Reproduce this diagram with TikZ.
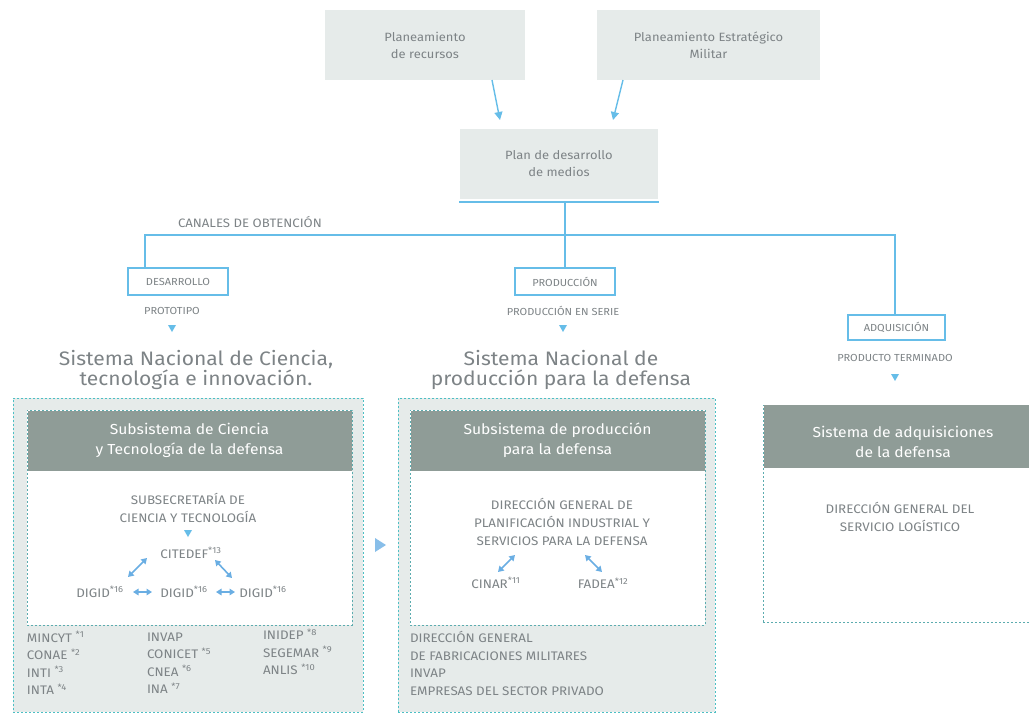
\documentclass[tikz,border=0pt]{standalone}
\usepackage{fontspec}
\setmainfont{Fira Sans}[FakeStretch=1.08]
\usetikzlibrary{arrows.meta,calc}
\definecolor{boxg}{HTML}{E6EBEA}
\definecolor{hdr}{HTML}{8F9C97}
\definecolor{txtg}{HTML}{7D8386}
\definecolor{lblue}{HTML}{66BDE8}
\definecolor{dteal}{HTML}{4DBFC4}
\definecolor{abl}{HTML}{6AAEE3}
\begin{document}
\begin{tikzpicture}[x=1pt,y=-1pt,
  every node/.style={inner sep=0pt,outer sep=0pt,text=txtg,align=center},
  topbox/.style={fill=boxg,minimum width=200pt,minimum height=70pt,font=\fontsize{12}{17}\selectfont},
  chan/.style={draw=lblue,line width=1.3pt,fill=white,minimum width=100pt,minimum height=27pt,font=\fontsize{10.2}{10}\selectfont},
  lab/.style={font=\fontsize{10.2}{10}\selectfont},
  big/.style={font=\fontsize{19.5}{20.5}\selectfont},
  outerbox/.style={fill=boxg,draw=dteal,line width=1pt,dash pattern=on 2pt off 2pt},
  innerbox/.style={fill=white,draw=dteal!70!gray,line width=0.9pt,dash pattern=on 2pt off 2pt},
  hdrbox/.style={fill=hdr,text=white,font=\fontsize{14.5}{20}\selectfont},
  inner/.style={font=\fontsize{12.4}{18}\selectfont},
  lst/.style={font=\fontsize{12.4}{17.5}\selectfont,anchor=west,align=left},
  tree/.style={draw=lblue,line width=1.4pt},
  arr/.style={draw=lblue,line width=1.4pt,-{Triangle[width=8pt,length=8pt]}},
  dbl/.style={draw=abl,line width=1.6pt,{Triangle[width=6.5pt,length=5.5pt]}-{Triangle[width=6.5pt,length=5.5pt]}},
  downtri/.pic={\fill[lblue] (-4,-3) -- (4,-3) -- (0,4) -- cycle;}
]
\useasboundingbox (0,0) rectangle (1029,713);

% top boxes
\node[topbox] (pr) at (425,45) {Planeamiento\\de recursos};
\node[topbox,minimum width=223pt] (pem) at (708.5,45) {Planeamiento Estratégico\\Militar};
\node[topbox,minimum width=198pt] (pd) at (559,164) {Plan de desarrollo\\de medios};
\coordinate (a1s) at (492,80); \coordinate (a1e) at (500,120);
\coordinate (a2s) at (623,80); \coordinate (a2e) at (613,120);
\draw[arr] (a1s) -- (a1e);
\draw[arr] (a2s) -- (a2e);

% channel tree
\coordinate (pdbl) at (459,202); \coordinate (pdbr) at (659,202);
\draw[tree] (pdbl) -- (pdbr);
\coordinate (hl) at (145,235); \coordinate (hr) at (895,235);
\node[anchor=west,font=\fontsize{12.2}{12}\selectfont] (canal) at (178,222) {CANALES DE OBTENCIÓN};
\node[chan] (des) at (178,281.5) {DESARROLLO};
\node[chan] (prod) at (565,281.5) {PRODUCCIÓN};
\node[chan,minimum width=97pt,minimum height=25pt] (adq) at (896.5,327.5) {ADQUISICIÓN};
\coordinate (pdv) at (565,202);
\draw[tree] (pdv) -- (prod.north);
\draw[tree] (des.north -| hl) -- (hl) -- (hr) -- (adq.north -| hr);

\node[lab] (proto) at (172,311) {PROTOTIPO};
\node[lab] (serie) at (563,311) {PRODUCCIÓN EN SERIE};
\node[lab] (term) at (895,358) {PRODUCTO TERMINADO};
\pic (t1) at (172,328) {downtri};
\pic (t2) at (563,328) {downtri};
\pic (t3) at (895,377) {downtri};

\node[big] (sncti) at (196,370) {Sistema Nacional de Ciencia,\\tecnología e innovación.};
\node[big] (snpd) at (561,370) {Sistema Nacional de\\producción para la defensa};

% left system
\node[outerbox,minimum width=350pt,minimum height=314pt] (lo) at (188,555) {};
\node[innerbox,minimum width=325pt,minimum height=215pt] (li) at (189.5,517.5) {};
\node[hdrbox,minimum width=324pt,minimum height=60pt] (lh) at (189.5,440.5) {Subsistema de Ciencia\\y Tecnología de la defensa};
\node[inner] (subs) at (188,508) {SUBSECRETARÍA DE\\CIENCIA Y TECNOLOGÍA};
\pic (t4) at (188,533) {downtri};
\node[inner] (cit) at (191,553) {CITEDEF\textsuperscript{*13}};
\node[inner] (dg1) at (100,592) {DIGID\textsuperscript{*16}};
\node[inner] (dg2) at (184,592) {DIGID\textsuperscript{*16}};
\node[inner] (dg3) at (263,592) {DIGID\textsuperscript{*16}};
\coordinate (c1a) at (128,577); \coordinate (c1b) at (147,558);
\coordinate (c2a) at (215,560); \coordinate (c2b) at (232,578);
\coordinate (h1a) at (133,592); \coordinate (h1b) at (152,592);
\coordinate (h2a) at (216,592); \coordinate (h2b) at (235,592);
\draw[dbl] (c1a) -- (c1b);
\draw[dbl] (c2a) -- (c2b);
\draw[dbl] (h1a) -- (h1b);
\draw[dbl] (h2a) -- (h2b);

\node[lst] (m1) at (27,663) {MINCYT \textsuperscript{*1}\\CONAE \textsuperscript{*2}\\INTI \textsuperscript{*3}\\INTA \textsuperscript{*4}};
\node[lst] (m2) at (147,663) {INVAP\\CONICET \textsuperscript{*5}\\CNEA \textsuperscript{*6}\\INA \textsuperscript{*7}};
\node[lst,anchor=north west] (m3) at (263,629) {INIDEP \textsuperscript{*8}\\SEGEMAR \textsuperscript{*9}\\ANLIS \textsuperscript{*10}};

% arrow between
\fill[abl!80] (375,538) -- (386,545) -- (375,552) -- cycle;

% middle system
\node[outerbox,minimum width=317pt,minimum height=314pt] (mo) at (556.5,555) {};
\node[innerbox,minimum width=295pt,minimum height=215pt] (mi) at (557.5,517.5) {};
\node[hdrbox,minimum width=294pt,minimum height=60pt] (mh) at (557.5,440.5) {Subsistema de producción\\para la defensa};
\node[inner] (dgp) at (562,522) {DIRECCIÓN GENERAL DE\\PLANIFICACIÓN INDUSTRIAL Y\\SERVICIOS PARA LA DEFENSA};
\node[inner] (cin) at (496,583) {CINAR\textsuperscript{*11}};
\node[inner] (fad) at (603,583) {FADEA\textsuperscript{*12}};
\coordinate (c3a) at (498,572); \coordinate (c3b) at (515,555);
\coordinate (c4a) at (585,555); \coordinate (c4b) at (602,572);
\draw[dbl] (c3a) -- (c3b);
\draw[dbl] (c4a) -- (c4b);
\node[lst] (m4) at (410,646) {DIRECCIÓN GENERAL\\DE FABRICACIONES MILITARES};
\node[lst] (m5) at (410,673) {INVAP};
\node[lst] (m6) at (410,691) {EMPRESAS DEL SECTOR PRIVADO};

% right system
\node[innerbox,minimum width=272pt,minimum height=217pt] (ri) at (899,513.5) {};
\node[hdrbox,minimum width=271pt,minimum height=63pt] (rh) at (899,436.5) {};
\node[hdrbox] (rht) at (903,442) {Sistema de adquisiciones\\de la defensa};
\node[inner] (dgs) at (900,517) {DIRECCIÓN GENERAL DEL\\SERVICIO LOGÍSTICO};
\end{tikzpicture}
\end{document}
